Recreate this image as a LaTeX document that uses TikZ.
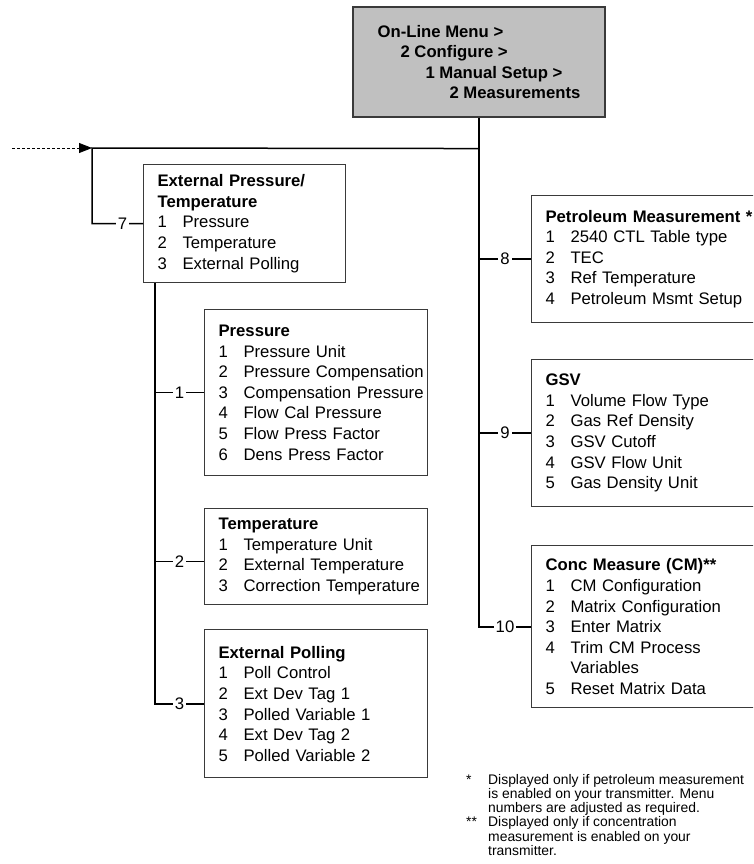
\documentclass[tikz,border=0pt]{standalone}
\usepackage{fontspec}
\setmainfont{Liberation Sans}
\usetikzlibrary{arrows.meta,positioning}
\definecolor{menugray}{HTML}{C0C0C0}
\definecolor{frame}{HTML}{3A3A3A}
\tikzset{
  base/.style={font=\fontsize{16.7}{20.6}\selectfont,align=left,draw=frame,line width=1.1pt,fill=white,inner xsep=14pt,inner ysep=0pt},
  menu/.style={base,fill=menugray,font=\bfseries\fontsize{16.7}{20.3}\selectfont},
  panel/.style={base,anchor=north west},
  wire/.style={line width=1.5pt,draw=black},
  feed/.style={line width=0.8pt,dash pattern=on 3pt off 2pt,-{Triangle[length=13pt,width=10pt]}},
  key/.style={font=\fontsize{16.7}{20}\selectfont,fill=white,inner xsep=2pt,inner ysep=1pt},
  notes/.style={font=\fontsize{13.9}{14.2}\selectfont,align=left,inner sep=0pt,anchor=north west}
}
\newcommand\opt[2]{\mbox{\makebox[25pt][l]{#1}#2}}
\newcommand\fnmark[1]{\makebox[22pt][l]{#1}}

\begin{document}
\begin{tikzpicture}[x=1pt,y=-1pt]
\useasboundingbox (0,0) rectangle (753,864);
\clip (0,0) rectangle (753,864);

% menu path
\node[menu,minimum width=252pt,minimum height=110pt] (menu) at (479,62) {On-Line Menu >\\\hspace*{23pt}2 Configure >\\\hspace*{48pt}1 Manual Setup >\\\hspace*{72pt}2 Measurements};
\coordinate (join) at ([yshift=-31pt]menu.south);
\coordinate (bend) at (92,148);
\coordinate (source) at (12,148);

% left branch
\node[panel,text width=174pt,minimum height=118pt] (ept) at (143,164) {\textbf{External Pressure/}\\\textbf{Temperature}\\\opt{1}{Pressure}\\\opt{2}{Temperature}\\\opt{3}{External Polling}};
\node[panel,text width=195pt,minimum height=166pt] (pres) at (204,309) {\textbf{Pressure}\\\opt{1}{Pressure Unit}\\\opt{2}{Pressure Compensation}\\\opt{3}{Compensation Pressure}\\\opt{4}{Flow Cal Pressure}\\\opt{5}{Flow Press Factor}\\\opt{6}{Dens Press Factor}};
\node[panel,text width=195pt,minimum height=96pt,below=32pt of pres] (temp) {\textbf{Temperature}\\\opt{1}{Temperature Unit}\\\opt{2}{External Temperature}\\\opt{3}{Correction Temperature}};
\node[panel,text width=195pt,minimum height=148pt,below=24pt of temp] (poll) {\textbf{External Polling}\\\opt{1}{Poll Control}\\\opt{2}{Ext Dev Tag 1}\\\opt{3}{Polled Variable 1}\\\opt{4}{Ext Dev Tag 2}\\\opt{5}{Polled Variable 2}};
\coordinate (drop) at ([xshift=12pt]ept.south west);

% right branch
\node[panel,text width=212pt,minimum height=127pt] (petro) at (531,195) {\textbf{Petroleum Measurement *}\\\opt{1}{2540 CTL Table type}\\\opt{2}{TEC}\\\opt{3}{Ref Temperature}\\\opt{4}{Petroleum Msmt Setup}};
\node[panel,text width=212pt,minimum height=147pt,below=36pt of petro] (gsv) {\textbf{GSV}\\\opt{1}{Volume Flow Type}\\\opt{2}{Gas Ref Density}\\\opt{3}{GSV Cutoff}\\\opt{4}{GSV Flow Unit}\\\opt{5}{Gas Density Unit}};
\node[panel,text width=212pt,minimum height=162pt,below=38pt of gsv] (conc) {\textbf{Conc Measure (CM)**}\\\opt{1}{CM Configuration}\\\opt{2}{Matrix Configuration}\\\opt{3}{Enter Matrix}\\\opt{4}{Trim CM Process}\\\opt{}{Variables}\\\opt{5}{Reset Matrix Data}};

\node[notes] (fn) at (466,774) {\fnmark{*}Displayed only if petroleum measurement\\\fnmark{}is enabled on your transmitter. Menu\\\fnmark{}numbers are adjusted as required.\\\fnmark{**}Displayed only if concentration\\\fnmark{}measurement is enabled on your\\\fnmark{}transmitter.};

\draw[feed] (source) -- (bend);
\draw[wire] (join) -- (bend) |- node[key,pos=0.8]{7} (ept.west);
\draw[wire] (menu.south) |- node[key,pos=0.75]{10} (conc.west);
\draw[wire] (menu.south |- petro.west) -- node[key]{8} (petro.west);
\draw[wire] (menu.south |- gsv.west) -- node[key]{9} (gsv.west);
\draw[wire] (drop) |- node[key,pos=0.75]{3} (poll.west);
\draw[wire] (drop |- pres.west) -- node[key]{1} (pres.west);
\draw[wire] ([yshift=-5pt]temp.west -| drop) -- node[key]{2} ([yshift=-5pt]temp.west);
\end{tikzpicture}
\end{document}
